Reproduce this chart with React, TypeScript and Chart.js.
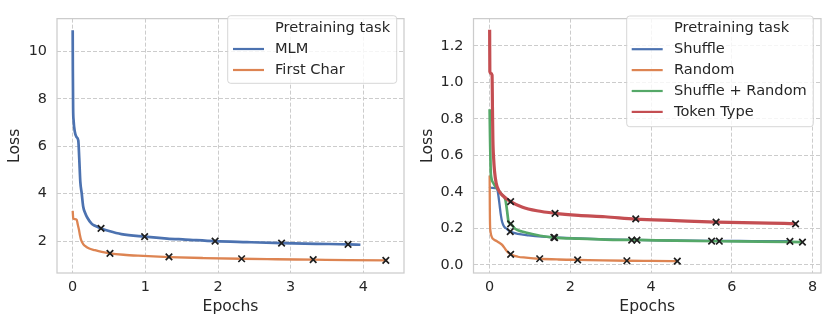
import React, { useEffect, useRef } from "react";
import { Chart, registerables } from "chart.js";

Chart.register(...registerables);

const FONT = '"DejaVu Sans", sans-serif';
const TEXT = "#262626";
const BLUE = "#4C72B0";
const ORANGE = "#DD8452";
const GREEN = "#55A868";
const RED = "#C44E52";
const MARK = "#1f1f1f";

// ---------- Left panel data ----------
const leftXTicks = [0, 1, 2, 3, 4];
const leftYTicks = [2, 4, 6, 8, 10];

const mlmEpochs = [0, 0.002, 0.006, 0.012, 0.03, 0.05, 0.077, 0.09, 0.105, 0.124, 0.145, 0.17, 0.2, 0.26, 0.3, 0.39, 0.5, 0.67, 0.99, 1.3, 1.55, 1.96, 2.4, 2.88, 3.35, 3.79, 3.96];
const mlmLoss = [10.89, 9.2, 7.6, 7.1, 6.6, 6.4, 6.24, 5.5, 4.5, 4.02, 3.45, 3.2, 3.0, 2.74, 2.66, 2.54, 2.43, 2.3, 2.19, 2.11, 2.07, 2.0, 1.96, 1.92, 1.89, 1.87, 1.85];
const mlmMarkEpochs = [0.39, 0.99, 1.96, 2.875, 3.79];
const mlmMarkLoss = [2.54, 2.19, 2.0, 1.92, 1.87];

const firstCharEpochs = [0, 0.008, 0.03, 0.055, 0.07, 0.087, 0.1, 0.114, 0.145, 0.17, 0.22, 0.307, 0.4, 0.513, 0.7, 0.9, 1.325, 1.8, 2.325, 2.8, 3.31, 3.8, 4.31, 4.33];
const firstCharLoss = [3.28, 2.95, 2.93, 2.9, 2.7, 2.47, 2.25, 2.07, 1.88, 1.8, 1.7, 1.62, 1.55, 1.49, 1.43, 1.39, 1.33, 1.29, 1.26, 1.24, 1.22, 1.2, 1.19, 1.19];
const firstCharMarkEpochs = [0.513, 1.325, 2.325, 3.31, 4.31];
const firstCharMarkLoss = [1.49, 1.34, 1.26, 1.22, 1.19];

// ---------- Right panel data ----------
const rightXTicks = [0, 2, 4, 6, 8];
const rightYTicks = [0, 0.2, 0.4, 0.6, 0.8, 1.0, 1.2];

const shuffleEpochs = [0, 0.02, 0.18, 0.21, 0.24, 0.28, 0.31, 0.36, 0.43, 0.51, 0.7, 0.97, 1.3, 1.59, 2.2, 2.86, 3.56, 4.5, 5.5, 6.5, 7.46, 7.5];
const shuffleLoss = [0.43, 0.423, 0.42, 0.39, 0.34, 0.27, 0.235, 0.21, 0.197, 0.183, 0.17, 0.162, 0.155, 0.151, 0.145, 0.14, 0.137, 0.134, 0.132, 0.131, 0.13, 0.13];
const shuffleMarkEpochs = [0.51, 1.59, 3.52, 5.5, 7.44];
const shuffleMarkLoss = [0.183, 0.151, 0.136, 0.131, 0.129];

const randomEpochs = [0, 0.005, 0.01, 0.02, 0.06, 0.1, 0.18, 0.25, 0.31, 0.39, 0.45, 0.52, 0.7, 0.9, 1.23, 1.7, 2.18, 2.8, 3.4, 4.0, 4.65];
const randomLoss = [0.49, 0.3, 0.22, 0.185, 0.15, 0.14, 0.13, 0.12, 0.11, 0.086, 0.07, 0.058, 0.045, 0.04, 0.034, 0.03, 0.028, 0.025, 0.023, 0.022, 0.021];
const randomMarkEpochs = [0.52, 1.24, 2.18, 3.4, 4.65];
const randomMarkLoss = [0.058, 0.034, 0.028, 0.023, 0.021];

const shuffleRandomEpochs = [0, 0.01, 0.025, 0.04, 0.1, 0.18, 0.3, 0.39, 0.43, 0.47, 0.52, 0.64, 0.8, 0.97, 1.25, 1.6, 2.2, 2.86, 3.64, 4.6, 5.69, 6.7, 7.75];
const shuffleRandomLoss = [0.853, 0.7, 0.52, 0.48, 0.446, 0.42, 0.385, 0.358, 0.3, 0.235, 0.225, 0.197, 0.183, 0.174, 0.16, 0.15, 0.144, 0.139, 0.137, 0.133, 0.13, 0.128, 0.125];
const shuffleRandomMarkEpochs = [0.52, 1.61, 3.65, 5.69, 7.75];
const shuffleRandomMarkLoss = [0.225, 0.15, 0.136, 0.13, 0.125];

const tokenTypeEpochs = [0, 0.005, 0.03, 0.06, 0.07, 0.08, 0.1, 0.12, 0.16, 0.22, 0.35, 0.52, 0.8, 1.17, 1.62, 2.2, 2.86, 3.62, 4.6, 5.62, 6.6, 7.58, 7.62];
const tokenTypeLoss = [1.288, 1.06, 1.05, 1.04, 0.86, 0.69, 0.58, 0.516, 0.45, 0.41, 0.375, 0.347, 0.318, 0.297, 0.283, 0.272, 0.264, 0.251, 0.243, 0.235, 0.23, 0.226, 0.225];
const tokenTypeMarkEpochs = [0.52, 1.62, 3.62, 5.61, 7.58];
const tokenTypeMarkLoss = [0.347, 0.283, 0.252, 0.235, 0.225];

const legendTitle = "Pretraining task";

function pts(xs: number[], ys: number[]) {
  return xs.map((x, i) => ({ x, y: ys[i] }));
}

function lineDs(label: string, color: string, xs: number[], ys: number[], order: number, width = 2) {
  return {
    type: "line",
    label,
    data: pts(xs, ys),
    borderColor: color,
    backgroundColor: color,
    borderWidth: width,
    pointRadius: 0,
    pointHoverRadius: 0,
    fill: false,
    cubicInterpolationMode: "monotone",
    order,
    legendEntry: true,
  };
}

function markDs(xs: number[], ys: number[]) {
  return {
    type: "scatter",
    label: "",
    data: pts(xs, ys),
    pointStyle: "crossRot",
    pointRadius: 4.6,
    pointBorderWidth: 1.7,
    borderColor: MARK,
    backgroundColor: MARK,
    borderWidth: 1.7,
    order: 0,
    legendEntry: false,
  };
}

const framePlugin = {
  id: "frame",
  beforeDatasetsDraw(chart: any) {
    const { ctx, chartArea: a } = chart;
    ctx.save();
    ctx.strokeStyle = "#cccccc";
    ctx.lineWidth = 1.25;
    ctx.setLineDash([]);
    ctx.strokeRect(a.left, a.top, a.right - a.left, a.bottom - a.top);
    ctx.restore();
  },
};

const boxLegendPlugin = {
  id: "boxLegend",
  afterDraw(chart: any, _args: any, o: any) {
    const ctx = chart.ctx;
    ctx.save();
    const r = 3;
    const { x, y, w, h } = o;
    ctx.beginPath();
    ctx.moveTo(x + r, y);
    ctx.lineTo(x + w - r, y);
    ctx.arcTo(x + w, y, x + w, y + r, r);
    ctx.lineTo(x + w, y + h - r);
    ctx.arcTo(x + w, y + h, x + w - r, y + h, r);
    ctx.lineTo(x + r, y + h);
    ctx.arcTo(x, y + h, x, y + h - r, r);
    ctx.lineTo(x, y + r);
    ctx.arcTo(x, y, x + r, y, r);
    ctx.closePath();
    ctx.fillStyle = "rgba(255,255,255,0.8)";
    ctx.fill();
    ctx.strokeStyle = "rgba(204,204,204,0.8)";
    ctx.lineWidth = 1;
    ctx.stroke();

    ctx.font = `${o.fontSize}px ${FONT}`;
    ctx.fillStyle = TEXT;
    ctx.textBaseline = "middle";
    ctx.textAlign = "left";
    ctx.fillText(o.title, x + o.textDx, o.firstRowY);
    const entries = chart.data.datasets.filter((d: any) => d.legendEntry);
    entries.forEach((d: any, i: number) => {
      const cy = o.firstRowY + (i + 1) * o.rowGap;
      ctx.strokeStyle = d.borderColor;
      ctx.lineWidth = 2.2;
      ctx.beginPath();
      ctx.moveTo(x + o.lineDx0, cy);
      ctx.lineTo(x + o.lineDx1, cy);
      ctx.stroke();
      ctx.fillStyle = TEXT;
      ctx.fillText(d.label, x + o.textDx, cy);
    });
    ctx.restore();
  },
};

function makeConfig(p: any) {
  const tickFont = { family: FONT, size: 14.4 };
  const titleFont = { family: FONT, size: 15.6 };
  return {
    type: "line",
    data: { datasets: p.datasets },
    plugins: [framePlugin, boxLegendPlugin],
    options: {
      responsive: false,
      animation: false,
      events: [],
      layout: { padding: { top: 8, right: p.padRight, left: 0, bottom: 0 } },
      plugins: {
        legend: { display: false },
        tooltip: { enabled: false },
        boxLegend: p.legend,
      },
      scales: {
        x: {
          type: "linear",
          min: p.xMin,
          max: p.xMax,
          afterBuildTicks: (s: any) => {
            s.ticks = p.xTicks.map((v: number) => ({ value: v }));
          },
          afterFit: (s: any) => {
            s.height = 52;
          },
          ticks: {
            font: tickFont,
            color: TEXT,
            padding: 6,
            maxRotation: 0,
            autoSkip: false,
            callback: (v: number) => String(v),
          },
          grid: { color: "#cccccc", lineWidth: 1, drawTicks: false },
          border: { display: false, dash: [4, 2] },
          title: {
            display: true,
            text: "Epochs",
            font: titleFont,
            color: TEXT,
            padding: { top: 0, bottom: 9 },
          },
        },
        y: {
          type: "linear",
          min: p.yMin,
          max: p.yMax,
          afterBuildTicks: (s: any) => {
            s.ticks = p.yTicks.map((v: number) => ({ value: v }));
          },
          afterFit: (s: any) => {
            s.width = p.yAxisWidth;
          },
          ticks: {
            font: tickFont,
            color: TEXT,
            padding: 10,
            autoSkip: false,
            callback: (v: number) => (p.yDecimals ? v.toFixed(p.yDecimals) : String(v)),
          },
          grid: { color: "#cccccc", lineWidth: 1, drawTicks: false },
          border: { display: false, dash: [4, 2] },
          title: {
            display: true,
            text: "Loss",
            font: titleFont,
            color: TEXT,
            padding: { top: p.yTitlePad, bottom: 0 },
          },
        },
      },
    },
  };
}

const leftConfig = () =>
  makeConfig({
    datasets: [
      lineDs("MLM", BLUE, mlmEpochs, mlmLoss, 2, 2.7),
      lineDs("First Char", ORANGE, firstCharEpochs, firstCharLoss, 1, 2.3),
      markDs(mlmMarkEpochs, mlmMarkLoss),
      markDs(firstCharMarkEpochs, firstCharMarkLoss),
    ],
    xMin: -0.216,
    xMax: 4.56,
    yMin: 0.66,
    yMax: 11.38,
    xTicks: leftXTicks,
    yTicks: leftYTicks,
    yDecimals: 0,
    padRight: 11,
    yAxisWidth: 57,
    yTitlePad: 5.7,
    legend: {
      x: 227.7,
      y: 15.7,
      w: 169,
      h: 67.6,
      title: legendTitle,
      fontSize: 14.6,
      firstRowY: 28,
      rowGap: 21,
      lineDx0: 5.3,
      lineDx1: 36.3,
      textDx: 47.3,
    },
  });

const rightConfig = () =>
  makeConfig({
    datasets: [
      lineDs("Shuffle", BLUE, shuffleEpochs, shuffleLoss, 4, 2.3),
      lineDs("Random", ORANGE, randomEpochs, randomLoss, 3, 2.3),
      lineDs("Shuffle + Random", GREEN, shuffleRandomEpochs, shuffleRandomLoss, 2, 2.7),
      lineDs("Token Type", RED, tokenTypeEpochs, tokenTypeLoss, 1, 3.2),
      markDs(shuffleMarkEpochs, shuffleMarkLoss),
      markDs(randomMarkEpochs, randomMarkLoss),
      markDs(shuffleRandomMarkEpochs, shuffleRandomMarkLoss),
      markDs(tokenTypeMarkEpochs, tokenTypeMarkLoss),
    ],
    xMin: -0.4,
    xMax: 8.21,
    yMin: -0.044,
    yMax: 1.349,
    xTicks: rightXTicks,
    yTicks: rightYTicks,
    yDecimals: 1,
    padRight: 9,
    yAxisWidth: 58.5,
    yTitlePad: 3.2,
    legend: {
      x: 211.7,
      y: 16,
      w: 186.6,
      h: 110.7,
      title: legendTitle,
      fontSize: 14.6,
      firstRowY: 28.3,
      rowGap: 20.9,
      lineDx0: 5,
      lineDx1: 36,
      textDx: 47.3,
    },
  });

function Panel({ build, left }: { build: () => any; left: number }) {
  const ref = useRef<HTMLCanvasElement | null>(null);
  useEffect(() => {
    if (!ref.current) return;
    const chart = new Chart(ref.current, build());
    return () => chart.destroy();
  }, [build]);
  return (
    <canvas
      ref={ref}
      width={415}
      height={325}
      style={{ position: "absolute", left, top: 0, width: 415, height: 325 }}
    />
  );
}

export default function App() {
  return (
    <div
      style={{
        position: "fixed",
        left: 0,
        top: 0,
        width: 830,
        height: 325,
        background: "#ffffff",
        overflow: "hidden",
      }}
    >
      <Panel build={leftConfig} left={0} />
      <Panel build={rightConfig} left={415} />
    </div>
  );
}
